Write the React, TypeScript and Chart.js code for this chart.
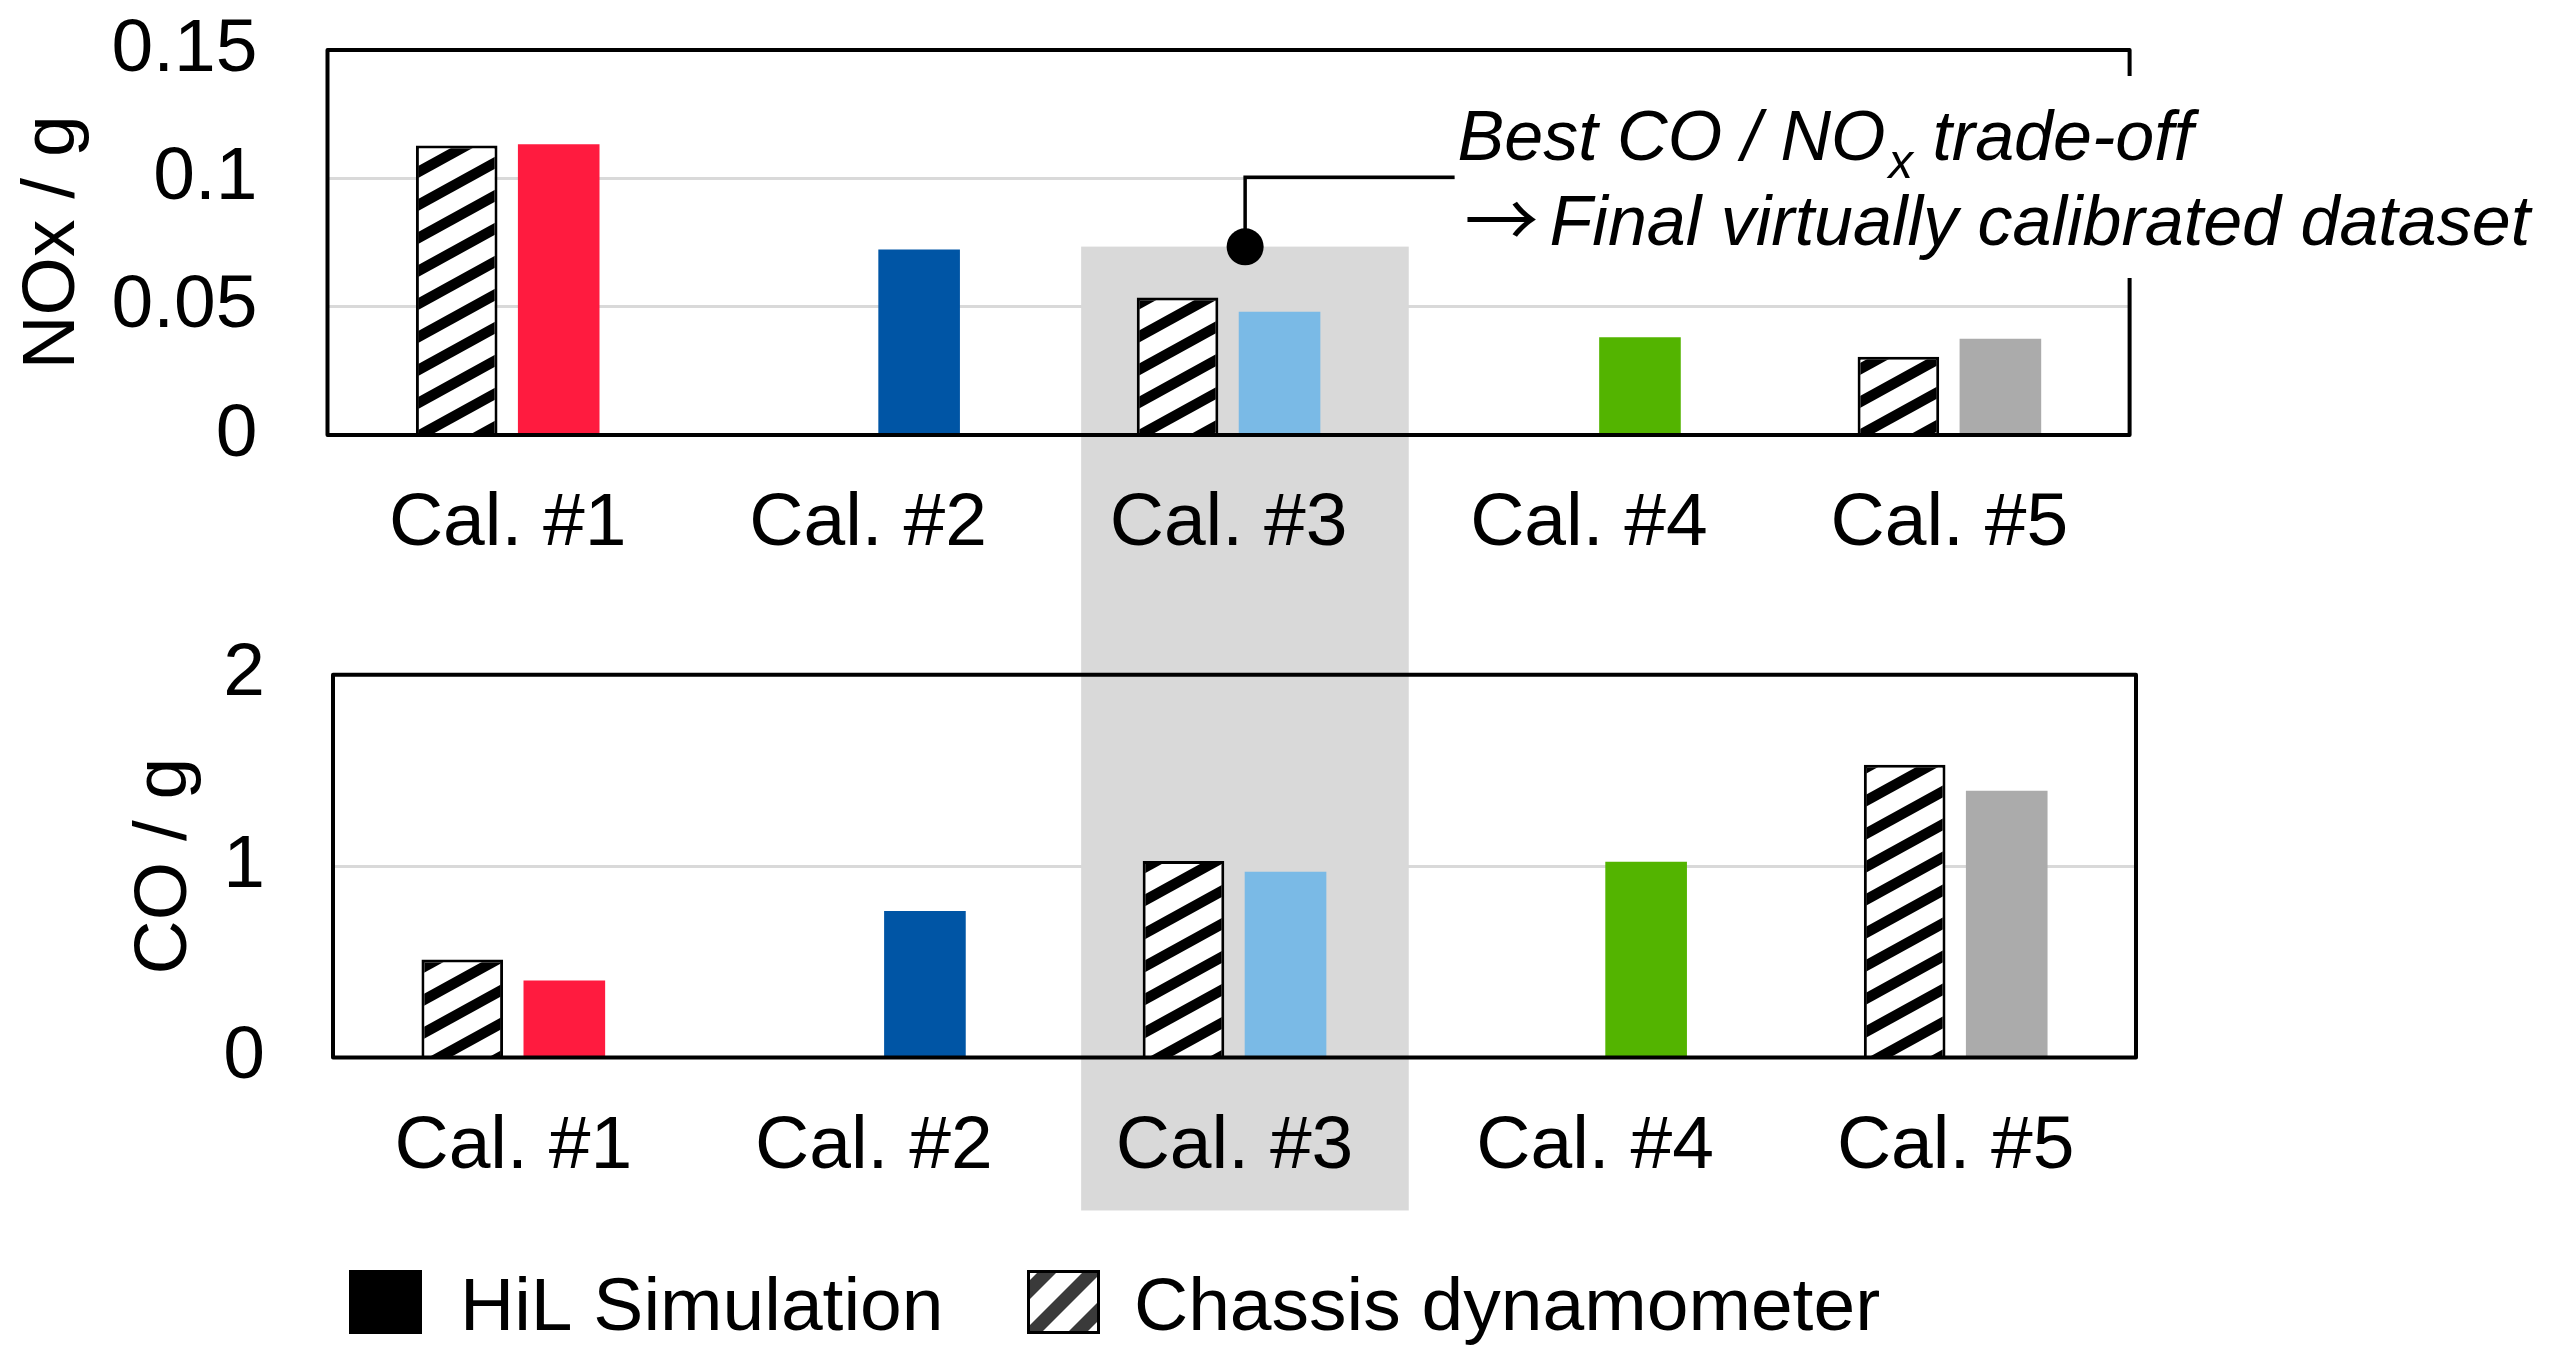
import React, { useEffect, useRef } from 'react';
import { Chart, registerables } from 'chart.js';

Chart.register(...registerables);

// ---------------- data ----------------
const CATEGORIES = ['Cal. #1', 'Cal. #2', 'Cal. #3', 'Cal. #4', 'Cal. #5'];
const NOX_HIL = [0.1133, 0.0723, 0.048, 0.0381, 0.0375];
const NOX_CHASSIS = [0.1128, null, 0.0536, null, 0.0305];
const CO_HIL = [0.402, 0.765, 0.97, 1.023, 1.393];
const CO_CHASSIS = [0.511, null, 1.026, null, 1.529];
const HIL_COLORS = ['#FF1B3F', '#0055A5', '#7ABAE6', '#53B400', '#ABABAB'];
const NOX_TICKS = [0, 0.05, 0.1, 0.15];
const NOX_TICK_LABELS = ['0', '0.05', '0.1', '0.15'];
const CO_TICKS = [0, 1, 2];
const CO_TICK_LABELS = ['0', '1', '2'];
const NOX_TITLE = 'NOx / g';
const CO_TITLE = 'CO / g';
const LEGEND_LABELS = ['HiL Simulation', 'Chassis dynamometer'];
const HIGHLIGHT_CATEGORY = 2;
const HIGHLIGHT_NOX_TOP = 0.0734;
const HIGHLIGHT_CO_BOTTOM = -0.8;
const ANNOTATION_NOX = 0.0733;
const ANNOTATION_LEADER_NOX = 0.1;
const ANNOTATION_LINE1 = ['Best CO / NO', 'x', ' trade-off'];
const ANNOTATION_ARROW = '\u2192';
const ANNOTATION_LINE2 = 'Final virtually calibrated dataset';

// ---------------- layout ----------------
const FONT_FAMILY = '"Liberation Sans", Arial, Helvetica, sans-serif';
const PAGE_W = 2549;
const TOP_H = 600;
const BOTTOM_H = 768;
const TOP_AREA = { left: 327.5, right: 2129.6, top: 50, bottom: 435 };
const BOTTOM_AREA = { left: 333, right: 2136, top: 74.7, bottom: 457.4 };
const FONT_SIZE = 75;

function makeStripePattern(w: number, h: number, t: number, fg: string) {
  const c = document.createElement('canvas');
  c.width = w;
  c.height = h;
  const g = c.getContext('2d')!;
  g.fillStyle = '#ffffff';
  g.fillRect(0, 0, w, h);
  g.fillStyle = fg;
  for (const dy of [-h, 0, h]) {
    g.beginPath();
    g.moveTo(0, h + dy);
    g.lineTo(w, dy);
    g.lineTo(w, dy + t);
    g.lineTo(0, h + dy + t);
    g.closePath();
    g.fill();
  }
  return g.createPattern(c, 'repeat')!;
}

function buildOptions(
  area: { left: number; right: number; top: number; bottom: number },
  canvasH: number,
  max: number,
  tickValues: number[],
  tickLabels: string[],
  title: string,
  titlePad: number,
  tickGap: number,
  xPad: number,
  plugins: any[]
) {
  const font = { family: FONT_FAMILY, size: FONT_SIZE };
  return {
    type: 'bar' as const,
    plugins,
    options: {
      responsive: false,
      animation: false as const,
      events: [],
      layout: { padding: { left: 0, top: area.top, right: PAGE_W - area.right, bottom: 0 } },
      plugins: { legend: { display: false }, tooltip: { enabled: false } },
      scales: {
        x: {
          grid: { display: false, drawTicks: false },
          border: { display: false },
          ticks: { color: '#000', font, padding: xPad, z: 1, maxRotation: 0, autoSkip: false },
          afterFit: (s: any) => {
            s.height = canvasH - area.bottom;
          },
        },
        y: {
          min: 0,
          max,
          afterBuildTicks: (s: any) => {
            s.ticks = tickValues.map((v) => ({ value: v }));
          },
          ticks: {
            color: '#000',
            font,
            padding: 0,
            callback: (_v: any, i: number) => tickLabels[i],
          },
          grid: {
            color: '#D9D9D9',
            lineWidth: 3,
            drawTicks: true,
            tickLength: tickGap,
            tickColor: 'rgba(0,0,0,0)',
          },
          border: { display: false },
          title: {
            display: true,
            text: title,
            color: '#000',
            font,
            padding: { top: titlePad, bottom: 0 },
          },
          afterFit: (s: any) => {
            s.width = area.left;
          },
        },
      },
    },
  };
}

const framePlugin = {
  id: 'frame',
  afterDatasetsDraw(chart: any) {
    const { ctx, chartArea: a } = chart;
    ctx.save();
    ctx.strokeStyle = '#000';
    ctx.lineWidth = 4;
    ctx.lineJoin = 'round';
    ctx.strokeRect(a.left, a.top, a.right - a.left, a.bottom - a.top);
    ctx.restore();
  },
};

function highlightX(ref: any) {
  const xs = ref.scales.x;
  const c = xs.getPixelForValue(HIGHLIGHT_CATEGORY);
  const w = xs.getPixelForValue(1) - xs.getPixelForValue(0);
  return [c - 0.409 * w, c + 0.5 * w];
}

export default function App() {
  const topRef = useRef<HTMLCanvasElement>(null);
  const botRef = useRef<HTMLCanvasElement>(null);

  useEffect(() => {
    const barHatch = makeStripePattern(60, 33, 12, '#000000');
    const legendHatch = makeStripePattern(45, 45, 19, '#3A3A3A');
    let topChart: any = null;

    const topHighlight = {
      id: 'topHighlight',
      beforeDatasetsDraw(chart: any) {
        const { ctx } = chart;
        const [x0, x1] = highlightX(chart);
        const y0 = chart.scales.y.getPixelForValue(HIGHLIGHT_NOX_TOP);
        ctx.save();
        ctx.fillStyle = '#D9D9D9';
        ctx.fillRect(x0, y0, x1 - x0, chart.height - y0);
        ctx.restore();
      },
    };

    const annotation = {
      id: 'annotation',
      afterDraw(chart: any) {
        const { ctx, chartArea: a } = chart;
        const xs = chart.scales.x;
        const ys = chart.scales.y;
        const catW = xs.getPixelForValue(1) - xs.getPixelForValue(0);
        const dotX = xs.getPixelForValue(HIGHLIGHT_CATEGORY) + 0.046 * catW;
        const dotY = ys.getPixelForValue(ANNOTATION_NOX);
        const leadY = ys.getPixelForValue(ANNOTATION_LEADER_NOX) - 1;
        const boxX = a.right - 675;
        ctx.save();
        // white text background
        ctx.fillStyle = '#ffffff';
        ctx.fillRect(boxX, a.top + 26, PAGE_W - boxX, 202);
        // leader line
        ctx.strokeStyle = '#000';
        ctx.lineWidth = 3.5;
        ctx.beginPath();
        ctx.moveTo(dotX, dotY);
        ctx.lineTo(dotX, leadY);
        ctx.lineTo(boxX, leadY);
        ctx.stroke();
        ctx.fillStyle = '#000';
        ctx.beginPath();
        ctx.arc(dotX, dotY, 18.5, 0, Math.PI * 2);
        ctx.fill();
        // text
        ctx.textBaseline = 'alphabetic';
        ctx.textAlign = 'left';
        const big = `italic 70px ${FONT_FAMILY}`;
        const small = `italic 49px ${FONT_FAMILY}`;
        let x = boxX + 3;
        const b1 = a.top + 110;
        ctx.font = big;
        ctx.fillText(ANNOTATION_LINE1[0], x, b1);
        x += ctx.measureText(ANNOTATION_LINE1[0]).width + 3;
        ctx.font = small;
        ctx.fillText(ANNOTATION_LINE1[1], x, b1 + 18);
        x += ctx.measureText(ANNOTATION_LINE1[1]).width;
        ctx.font = big;
        ctx.fillText(ANNOTATION_LINE1[2], x, b1);
        const b2 = b1 + 85;
        ctx.font = `74px "Noto Sans CJK JP", "DejaVu Sans", sans-serif`;
        ctx.fillText(ANNOTATION_ARROW, boxX + 10, b2 + 2);
        ctx.font = big;
        ctx.fillText(ANNOTATION_LINE2, boxX + 95, b2);
        ctx.restore();
      },
    };

    const bottomHighlight = {
      id: 'bottomHighlight',
      beforeDatasetsDraw(chart: any) {
        const { ctx } = chart;
        const [x0, x1] = highlightX(topChart || chart);
        const y1 = chart.scales.y.getPixelForValue(HIGHLIGHT_CO_BOTTOM);
        ctx.save();
        ctx.fillStyle = '#D9D9D9';
        ctx.fillRect(x0, 0, x1 - x0, y1);
        ctx.restore();
      },
    };

    const legend = {
      id: 'customLegend',
      afterDraw(chart: any) {
        const { ctx } = chart;
        const a = chart.chartArea;
        const boxY = a.bottom + 212.6;
        const boxW = 73;
        const boxH = 64;
        const base = boxY + 60;
        ctx.save();
        ctx.font = `${FONT_SIZE}px ${FONT_FAMILY}`;
        ctx.textBaseline = 'alphabetic';
        ctx.textAlign = 'left';
        // HiL
        const x1 = a.left + 16;
        ctx.fillStyle = '#000';
        ctx.fillRect(x1, boxY, boxW, boxH);
        ctx.fillText(LEGEND_LABELS[0], x1 + boxW + 38, base);
        // Chassis
        const x2 = a.left + 694;
        ctx.fillStyle = legendHatch;
        ctx.fillRect(x2, boxY, boxW, boxH);
        ctx.strokeStyle = '#000';
        ctx.lineWidth = 3;
        ctx.strokeRect(x2 + 1.5, boxY + 1.5, boxW - 3, boxH - 3);
        ctx.fillStyle = '#000';
        ctx.fillText(LEGEND_LABELS[1], x2 + boxW + 34, base);
        ctx.restore();
      },
    };

    const barCommon = { categoryPercentage: 0.566, barPercentage: 0.8 };

    const topCfg: any = buildOptions(
      TOP_AREA, TOP_H, 0.15, NOX_TICKS, NOX_TICK_LABELS, NOX_TITLE, 8, 70, 44,
      [topHighlight, framePlugin, annotation]
    );
    topCfg.data = {
      labels: CATEGORIES,
      datasets: [
        { label: LEGEND_LABELS[1], data: NOX_CHASSIS, backgroundColor: barHatch, borderColor: '#000', borderWidth: 3, ...barCommon },
        { label: LEGEND_LABELS[0], data: NOX_HIL, backgroundColor: HIL_COLORS, borderWidth: 0, ...barCommon },
      ],
    };
    topChart = new Chart(topRef.current!, topCfg);

    const botCfg: any = buildOptions(
      BOTTOM_AREA, BOTTOM_H, 2, CO_TICKS, CO_TICK_LABELS, CO_TITLE, 120, 68, 45,
      [bottomHighlight, framePlugin, legend]
    );
    botCfg.data = {
      labels: CATEGORIES,
      datasets: [
        { label: LEGEND_LABELS[1], data: CO_CHASSIS, backgroundColor: barHatch, borderColor: '#000', borderWidth: 3, ...barCommon },
        { label: LEGEND_LABELS[0], data: CO_HIL, backgroundColor: HIL_COLORS, borderWidth: 0, ...barCommon },
      ],
    };
    const bottomChart = new Chart(botRef.current!, botCfg);

    return () => {
      topChart.destroy();
      bottomChart.destroy();
    };
  }, []);

  return (
    <div
      style={{
        position: 'absolute',
        left: 0,
        top: 0,
        width: PAGE_W,
        height: TOP_H + BOTTOM_H,
        background: '#ffffff',
        overflow: 'hidden',
      }}
    >
      <canvas
        ref={topRef}
        width={PAGE_W}
        height={TOP_H}
        style={{ position: 'absolute', left: 0, top: 0, width: PAGE_W, height: TOP_H, display: 'block' }}
      />
      <canvas
        ref={botRef}
        width={PAGE_W}
        height={BOTTOM_H}
        style={{ position: 'absolute', left: 0, top: TOP_H, width: PAGE_W, height: BOTTOM_H, display: 'block' }}
      />
    </div>
  );
}
